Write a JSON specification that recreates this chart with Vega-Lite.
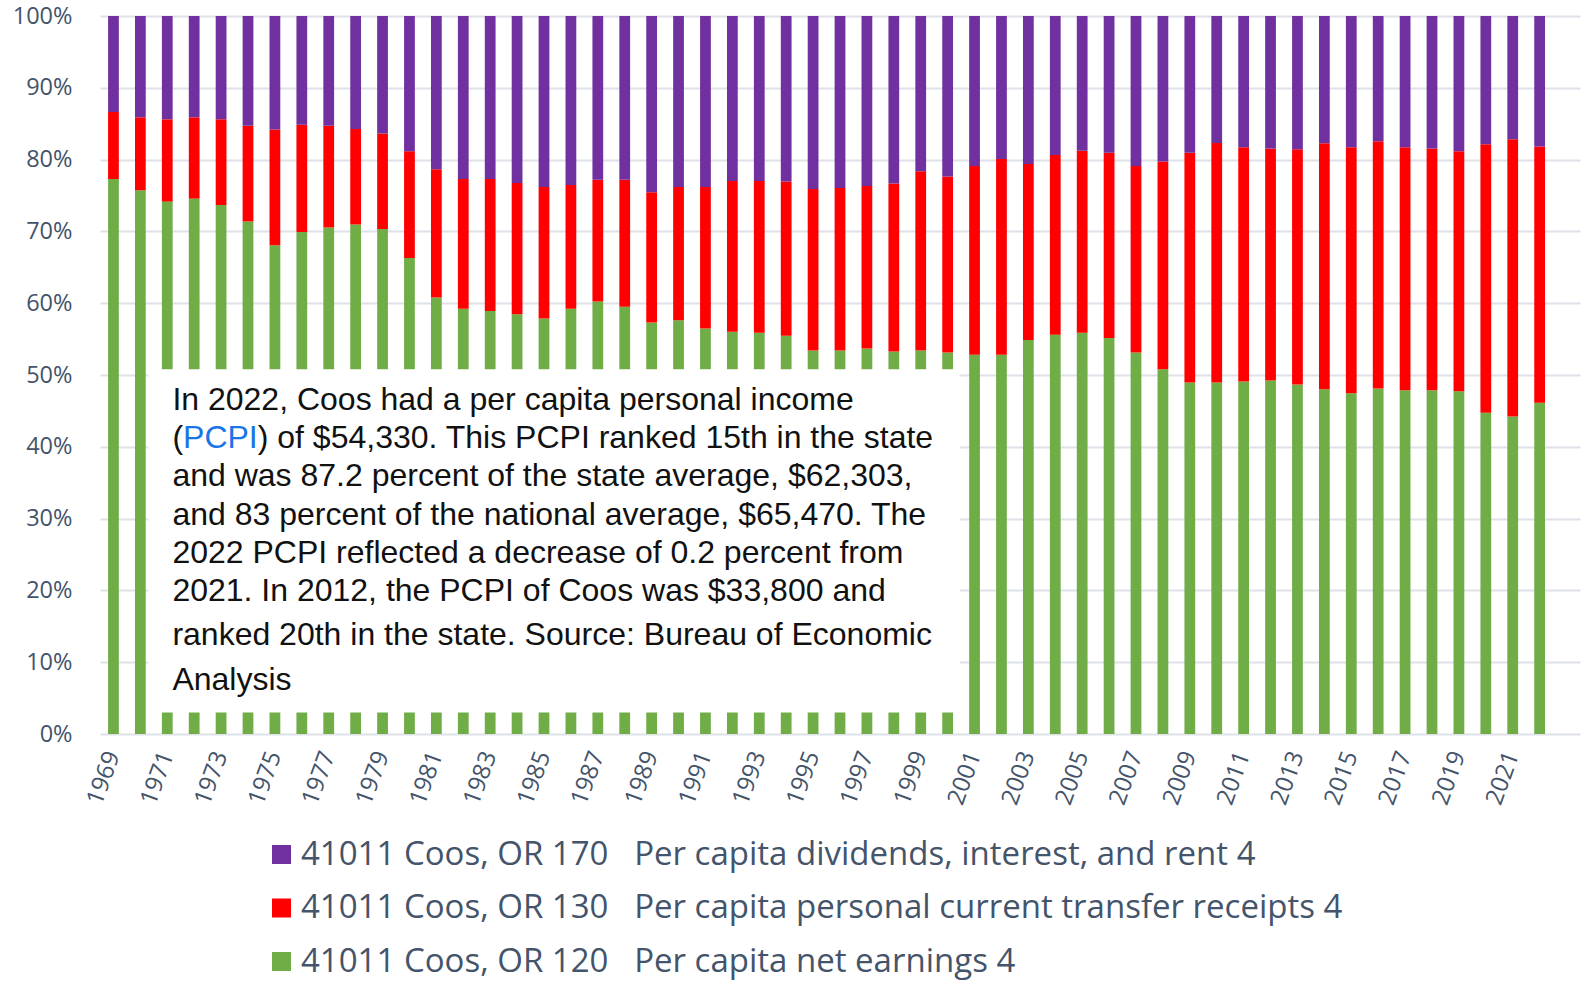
{
  "$schema": "https://vega.github.io/schema/vega-lite/v6.json",
  "width": 1480,
  "height": 718,
  "autosize": {"type": "none"},
  "padding": {"left": 100, "top": 16, "right": 3, "bottom": 248},
  "background": "white",
  "config": {"view": {"stroke": null}, "font": "Open Sans"},
  "resolve": {"scale": {"x": "independent", "y": "independent"}, "axis": {"x": "independent", "y": "independent"}},
  "layer": [
    {
      "data": {"values": [
        {"year": "1969", "120": 77.31, "130": 9.33, "170": 13.36},
        {"year": "1970", "120": 75.73, "130": 10.16, "170": 14.11},
        {"year": "1971", "120": 74.15, "130": 11.46, "170": 14.39},
        {"year": "1972", "120": 74.57, "130": 11.32, "170": 14.11},
        {"year": "1973", "120": 73.69, "130": 11.92, "170": 14.39},
        {"year": "1974", "120": 71.37, "130": 13.36, "170": 15.27},
        {"year": "1975", "120": 68.07, "130": 16.11, "170": 15.82},
        {"year": "1976", "120": 69.93, "130": 14.94, "170": 15.13},
        {"year": "1977", "120": 70.53, "130": 14.20, "170": 15.27},
        {"year": "1978", "120": 70.95, "130": 13.32, "170": 15.73},
        {"year": "1979", "120": 70.35, "130": 13.27, "170": 16.38},
        {"year": "1980", "120": 66.31, "130": 14.85, "170": 18.84},
        {"year": "1981", "120": 60.79, "130": 17.86, "170": 21.35},
        {"year": "1982", "120": 59.21, "130": 18.10, "170": 22.69},
        {"year": "1983", "120": 58.93, "130": 18.38, "170": 22.69},
        {"year": "1984", "120": 58.47, "130": 18.28, "170": 23.25},
        {"year": "1985", "120": 57.86, "130": 18.33, "170": 23.81},
        {"year": "1986", "120": 59.21, "130": 17.26, "170": 23.53},
        {"year": "1987", "120": 60.23, "130": 16.98, "170": 22.79},
        {"year": "1988", "120": 59.49, "130": 17.72, "170": 22.79},
        {"year": "1989", "120": 57.31, "130": 18.14, "170": 24.55},
        {"year": "1990", "120": 57.63, "130": 18.56, "170": 23.81},
        {"year": "1991", "120": 56.47, "130": 19.72, "170": 23.81},
        {"year": "1992", "120": 56.01, "130": 21.02, "170": 22.97},
        {"year": "1993", "120": 55.87, "130": 21.16, "170": 22.97},
        {"year": "1994", "120": 55.45, "130": 21.49, "170": 23.06},
        {"year": "1995", "120": 53.41, "130": 22.51, "170": 24.08},
        {"year": "1996", "120": 53.41, "130": 22.64, "170": 23.95},
        {"year": "1997", "120": 53.69, "130": 22.64, "170": 23.67},
        {"year": "1998", "120": 53.27, "130": 23.39, "170": 23.34},
        {"year": "1999", "120": 53.41, "130": 24.97, "170": 21.62},
        {"year": "2000", "120": 53.13, "130": 24.50, "170": 22.37},
        {"year": "2001", "120": 52.81, "130": 26.31, "170": 20.88},
        {"year": "2002", "120": 52.81, "130": 27.28, "170": 19.91},
        {"year": "2003", "120": 54.89, "130": 24.51, "170": 20.60},
        {"year": "2004", "120": 55.59, "130": 25.06, "170": 19.35},
        {"year": "2005", "120": 55.87, "130": 25.38, "170": 18.75},
        {"year": "2006", "120": 55.17, "130": 25.80, "170": 19.03},
        {"year": "2007", "120": 53.13, "130": 25.99, "170": 20.88},
        {"year": "2008", "120": 50.81, "130": 28.91, "170": 20.28},
        {"year": "2009", "120": 48.95, "130": 32.02, "170": 19.03},
        {"year": "2010", "120": 48.95, "130": 33.37, "170": 17.68},
        {"year": "2011", "120": 49.09, "130": 32.63, "170": 18.28},
        {"year": "2012", "120": 49.23, "130": 32.30, "170": 18.47},
        {"year": "2013", "120": 48.67, "130": 32.77, "170": 18.56},
        {"year": "2014", "120": 48.03, "130": 34.24, "170": 17.73},
        {"year": "2015", "120": 47.47, "130": 34.25, "170": 18.28},
        {"year": "2016", "120": 48.12, "130": 34.43, "170": 17.45},
        {"year": "2017", "120": 47.89, "130": 33.83, "170": 18.28},
        {"year": "2018", "120": 47.89, "130": 33.64, "170": 18.47},
        {"year": "2019", "120": 47.75, "130": 33.41, "170": 18.84},
        {"year": "2020", "120": 44.73, "130": 37.40, "170": 17.87},
        {"year": "2021", "120": 44.22, "130": 38.61, "170": 17.17},
        {"year": "2022", "120": 46.12, "130": 35.69, "170": 18.19}
      ]},
      "transform": [{"fold": ["120", "130", "170"], "as": ["series", "share"]}],
      "mark": {"type": "bar"},
      "encoding": {
        "x": {
          "field": "year",
          "type": "ordinal",
          "scale": {
            "domain": ["1969","1970","1971","1972","1973","1974","1975","1976","1977","1978","1979","1980","1981","1982","1983","1984","1985","1986","1987","1988","1989","1990","1991","1992","1993","1994","1995","1996","1997","1998","1999","2000","2001","2002","2003","2004","2005","2006","2007","2008","2009","2010","2011","2012","2013","2014","2015","2016","2017","2018","2019","2020","2021","2022","2023"],
            "paddingInner": 0.6,
            "paddingOuter": 0.3
          },
          "axis": {
            "title": null,
            "domain": false,
            "ticks": false,
            "labelAngle": -70,
            "labelAlign": "right",
            "labelBaseline": "middle",
            "labelPadding": 18,
            "labelFontSize": 24,
            "labelColor": "#44546A",
            "labelOverlap": false,
            "labelExpr": "(toNumber(datum.value) % 2 == 1 && datum.value != '2023') ? datum.value : ''"
          }
        },
        "y": {
          "field": "share",
          "type": "quantitative",
          "stack": "normalize",
          "scale": {"domain": [0, 1], "nice": false},
          "axis": {
            "title": null,
            "values": [0, 0.1, 0.2, 0.3, 0.4, 0.5, 0.6, 0.7, 0.8, 0.9, 1],
            "format": ".0%",
            "grid": true,
            "gridColor": "#DDE2E8",
            "gridWidth": 2,
            "domain": false,
            "ticks": false,
            "labelFontSize": 23.5,
            "labelColor": "#44546A",
            "labelPadding": 28
          }
        },
        "color": {
          "field": "series",
          "type": "nominal",
          "scale": {"domain": ["170", "130", "120"], "range": ["#7030A0", "#FF0000", "#70AD47"]},
          "legend": {
            "orient": "none",
            "legendX": 165,
            "legendY": 822,
            "direction": "vertical",
            "title": null,
            "padding": 0,
            "symbolType": "square",
            "symbolSize": 361,
            "symbolStrokeWidth": 0,
            "labelFontSize": 33,
            "labelFont": "Open Sans",
            "labelColor": "#44546A",
            "labelOffset": 3,
            "rowPadding": 19.5,
            "labelLimit": 1400,
            "labelExpr": "datum.value == '170' ? '41011 Coos, OR 170\u00a0\u00a0\u00a0Per capita dividends, interest, and rent 4' : datum.value == '130' ? '41011 Coos, OR 130\u00a0\u00a0\u00a0Per capita personal current transfer receipts 4' : '41011 Coos, OR 120\u00a0\u00a0\u00a0Per capita net earnings 4'"
          }
        },
        "order": {"field": "series", "sort": "ascending"}
      }
    },
    {
      "data": {"values": [{}]},
      "mark": {"type": "rect", "fill": "white", "strokeWidth": 0},
      "encoding": {
        "x": {"datum": 1970.3, "type": "quantitative", "scale": {"domain": [1968.5, 2023.5], "nice": false, "zero": false}, "axis": null},
        "x2": {"datum": 2000.45},
        "y": {"datum": 0.030, "type": "quantitative", "scale": {"domain": [0, 1], "nice": false}, "axis": null},
        "y2": {"datum": 0.508}
      }
    },
    {
      "data": {"values": [
        {"t": "In 2022, Coos had a per capita personal income", "pos": 0.4515},
        {"t": "(", "pos": 0.3982},
        {"t": "and was 87.2 percent of the state average, $62,303,", "pos": 0.3448},
        {"t": "and 83 percent of the national average, $65,470. The", "pos": 0.2915},
        {"t": "2022 PCPI reflected a decrease of 0.2 percent from", "pos": 0.2382},
        {"t": "2021. In 2012, the PCPI of Coos was $33,800 and", "pos": 0.1849},
        {"t": "ranked 20th in the state. Source: Bureau of Economic", "pos": 0.1243},
        {"t": "Analysis", "pos": 0.0617}
      ]},
      "mark": {"type": "text", "align": "left", "baseline": "alphabetic", "font": "Liberation Sans", "fontSize": 32, "color": "#111111"},
      "encoding": {
        "x": {"datum": 1971.19, "type": "quantitative", "scale": {"domain": [1968.5, 2023.5], "nice": false, "zero": false}, "axis": null},
        "y": {"field": "pos", "type": "quantitative", "scale": {"domain": [0, 1], "nice": false}, "axis": null},
        "text": {"field": "t"}
      }
    },
    {
      "data": {"values": [{"t": "PCPI", "pos": 0.3982}]},
      "mark": {"type": "text", "align": "left", "baseline": "alphabetic", "font": "Liberation Sans", "fontSize": 32, "color": "#1A75E8", "dx": 10.66},
      "encoding": {
        "x": {"datum": 1971.19, "type": "quantitative", "scale": {"domain": [1968.5, 2023.5], "nice": false, "zero": false}, "axis": null},
        "y": {"field": "pos", "type": "quantitative", "scale": {"domain": [0, 1], "nice": false}, "axis": null},
        "text": {"field": "t"}
      }
    },
    {
      "data": {"values": [{"t": ") of $54,330. This PCPI ranked 15th in the state", "pos": 0.3982}]},
      "mark": {"type": "text", "align": "left", "baseline": "alphabetic", "font": "Liberation Sans", "fontSize": 32, "color": "#111111", "dx": 85.35},
      "encoding": {
        "x": {"datum": 1971.19, "type": "quantitative", "scale": {"domain": [1968.5, 2023.5], "nice": false, "zero": false}, "axis": null},
        "y": {"field": "pos", "type": "quantitative", "scale": {"domain": [0, 1], "nice": false}, "axis": null},
        "text": {"field": "t"}
      }
    }
  ]
}
